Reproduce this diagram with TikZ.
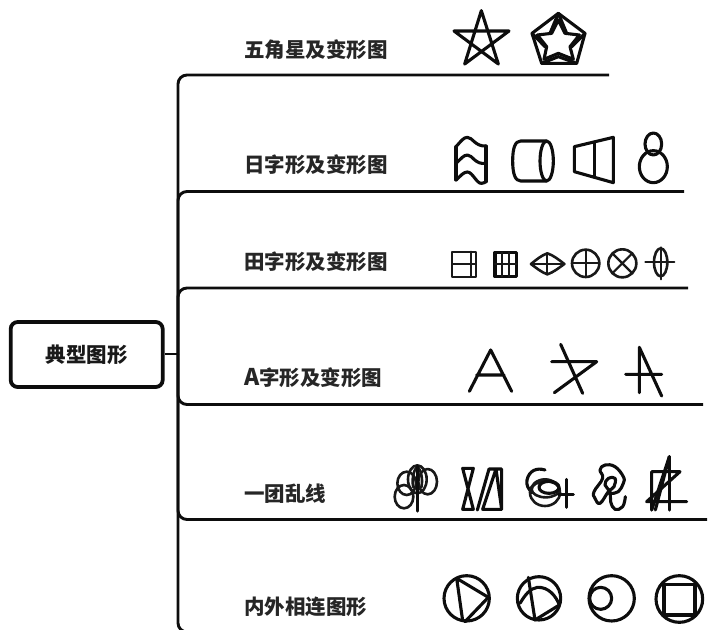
\documentclass[tikz,border=0pt]{standalone}
\usepackage{fontspec}
\setmainfont{Noto Sans CJK SC}
\tikzset{
  branch/.style={line width=2.9pt,rounded corners=9pt,black!95},
  rootbox/.style={draw=black!95,line width=3.8pt,rounded corners=7pt,minimum width=152pt,minimum height=65pt,inner sep=0pt,font=\fontsize{20.5pt}{24pt}\selectfont\bfseries,text=black!90},
  lab/.style={anchor=west,inner sep=0pt,font=\fontsize{20.5pt}{24pt}\selectfont\bfseries,text=black!85},
  ic/.style={line width=3.1pt,line join=round,line cap=round,black!95},
  ict/.style={line width=2.2pt,line join=round,line cap=round,black!90},
  zoomA/.style={shift={(430,0)},scale=0.33333},
  zoomB/.style={shift={(430,230)},scale=0.33333},
  zoomC/.style={shift={(380,450)},scale=0.33333},
  zoomD/.style={shift={(390,450)},scale=0.33333},
  zoomE/.style={shift={(515,450)},scale=0.33333},
  zoomF/.style={shift={(590,450)},scale=0.33333},
  zoomG/.style={shift={(440,570)},scale=0.33333},
}
\begin{document}
\begin{tikzpicture}[x=1pt,y=-1pt]
\clip (0,0) rectangle (711,629);
\node[rootbox] (root) at (86.7,354.5) {典型图形};
\coordinate (hub) at (178,354);
\coordinate (e1) at (609,75);
\coordinate (e2) at (684,191.5);
\coordinate (e3) at (688,288);
\coordinate (e4) at (703,404.5);
\coordinate (e5) at (707,519.5);
\coordinate (e6) at (200,632);
\draw[branch] (root.east |- hub) -- (hub);
\draw[branch] (hub) |- (e1);
\draw[branch] (hub) |- (e2);
\draw[branch] (hub) |- (e3);
\draw[branch] (hub) |- (e4);
\draw[branch] (hub) |- (e5);
\draw[branch] (hub) |- (e6);
\node[lab] (l1) at (244,50) {五角星及变形图};
\node[lab] (l2) at (244,165) {日字形及变形图};
\node[lab] (l3) at (244,262) {田字形及变形图};
\node[lab] (l4) at (244,378) {{\fontsize{23pt}{24pt}\selectfont A}字形及变形图};
\node[lab] (l5) at (244,494) {一团乱线};
\node[lab] (l6) at (244,607) {内外相连图形};

\begin{scope}[zoomA]
 \draw[ic] (154,32)--(205,192)--(72,93)--(237,93)--(104,192)--cycle;
 \draw[ic] (385,40)--(465,100)--(440,190)--(335,190)--(306,100)--cycle;
 \draw[ic] (385,60)--(405,100)--(448,105)--(420,140)--(430,178)--(385,160)--(342,178)--(350,140)--(322,105)--(365,100)--cycle;
 \draw[ic] (385,40)--(360,100) (385,40)--(410,100) (306,100)--(345,140) (465,100)--(425,140) (335,190)--(385,170)--(440,190);
 % wavy
 \draw[ic] (78,440)--(78,540) (168,438)--(168,545);
 \draw[ic] (78,440) .. controls (92,425) and (100,412) .. (112,412) .. controls (128,412) and (135,440) .. (168,438);
 \draw[ic] (78,490) .. controls (92,478) and (100,465) .. (112,465) .. controls (128,465) and (135,495) .. (168,490);
 \draw[ic] (78,540) .. controls (92,528) and (100,516) .. (112,516) .. controls (128,516) and (140,552) .. (155,550) .. controls (162,549) and (165,547) .. (168,545);
 % cylinder
 \draw[ic] (350,423)--(272,423) .. controls (255,423) and (248,445) .. (248,483) .. controls (248,520) and (255,543) .. (272,543)--(350,543);
 \draw[ic] (350,483) ellipse [x radius=20,y radius=60];
 % trapezoid
 \draw[ic] (433,440)--(550,412)--(550,548)--(433,515)--cycle;
 \draw[ic] (493,428)--(493,532);
 % eight
 \draw[ic] (670,432) ellipse [x radius=25,y radius=33];
 \draw[ic] (670,500) ellipse [x radius=42,y radius=48];
\end{scope}

\begin{scope}[zoomB]
 \draw[ict] (67,65) rectangle (137,140);
 \draw[ict] (67,102)--(137,102) (122,65)--(122,140);
 \draw[ic] (195,67) rectangle (260,140);
 \draw[ict] (195,103)--(260,103) (216,67)--(216,140) (236,67)--(236,140);
 \draw[ict,line width=2.6pt] (303,102) .. controls (320,88) and (335,76) .. (352,70) .. controls (370,76) and (385,88) .. (403,102) .. controls (385,115) and (370,127) .. (352,133) .. controls (335,127) and (320,115) .. (303,102) -- cycle;
 \draw[ict] (303,102)--(403,102) (352,70)--(352,133);
 \draw[ict,line width=2.6pt] (467,100) circle [radius=41];
 \draw[ict] (426,100)--(508,100) (467,59)--(467,141);
 \draw[ict,line width=2.6pt] (577,100) circle [radius=42];
 \draw[ict] (548,71)--(606,129) (606,71)--(548,129);
 \draw[ict,line width=2.6pt] (692,97) ellipse [x radius=20,y radius=42];
 \draw[ict] (646,95)--(733,95) (692,52)--(692,148);
 % A
 \draw[ic] (118,484)--(182,360)--(245,484) (140,435)--(222,435);
 \draw[ic] (392,343)--(458,490) (365,395)--(500,395)--(373,488);
 \draw[ic] (628,352)--(628,488) (628,352)--(695,498) (587,433)--(695,433);
\end{scope}

\begin{scope}[zoomD]
 \draw[ict,line width=2.6pt] (42,140) ellipse [x radius=28,y radius=35];
 \draw[ict,line width=2.6pt] (50,100) ellipse [x radius=28,y radius=35];
 \draw[ict,line width=2.6pt] (82,88) ellipse [x radius=28,y radius=42];
 \draw[ict,line width=2.6pt] (113,95) ellipse [x radius=28,y radius=38];
 \draw[ict,line width=2.6pt] (70,112) .. controls (64,85) and (72,60) .. (82,48) .. controls (92,60) and (100,85) .. (94,112);
 \draw[ic] (82,48)--(82,183);
 \draw[ic] (218,55)--(250,55)--(218,178)--(250,178)--cycle;
 \draw[ic] (262,180)--(297,57)--(335,57)--(335,178)--(278,178)--(318,57)--(335,178);
\end{scope}

\begin{scope}[zoomE]
 \draw[ic] (90,60) .. controls (65,52) and (42,62) .. (36,90) .. controls (33,105) and (40,118) .. (52,128);
 \draw[ict,line width=2.6pt] (90,128) ellipse [x radius=45,y radius=40];
 \draw[ict,line width=2.6pt] (92,118) ellipse [x radius=42,y radius=24];
 \draw[ic] (102,112) ellipse [x radius=30,y radius=18];
 \draw[ic] (130,133)--(175,133) (155,88)--(155,172);
\end{scope}

\begin{scope}[zoomF]
 \draw[ic] plot[smooth,tension=0.7] coordinates {(106,140) (98,170) (75,178) (62,155) (60,125) (45,105) (55,85) (75,85) (72,110) (55,125) (30,160) (15,145) (12,125) (38,85) (30,60) (45,45) (75,50) (100,80) (100,100) (85,125) (65,130)};
 \draw[ic] (185,180)--(185,65)--(270,65)--(170,155)--(290,155);
 \draw[ic] (238,20)--(238,180);
 \draw[ic] (238,20)--(185,180);
 \draw[ic] (238,20)--(196,180);
\end{scope}

\begin{scope}[zoomG]
 \draw[ic] (80,85) circle [radius=68];
 \draw[ic] (50,25)--(145,82)--(75,155) (50,25)--(68,152);
 \draw[ic] (297,85) circle [radius=65];
 \draw[ic] (265,22)--(285,150)--(358,105);
 \draw[ic] (240,100) .. controls (255,75) and (270,55) .. (292,52) .. controls (325,50) and (348,78) .. (358,105);
\end{scope}

\begin{scope}[zoomC]
 \draw[ic] (695,445) circle [radius=68];
 \draw[ic] (662,445) circle [radius=33];
 \draw[ic] (898,447) circle [radius=70];
 \draw[ic] (852,403) rectangle (945,495);
\end{scope}
\end{tikzpicture}
\end{document}
